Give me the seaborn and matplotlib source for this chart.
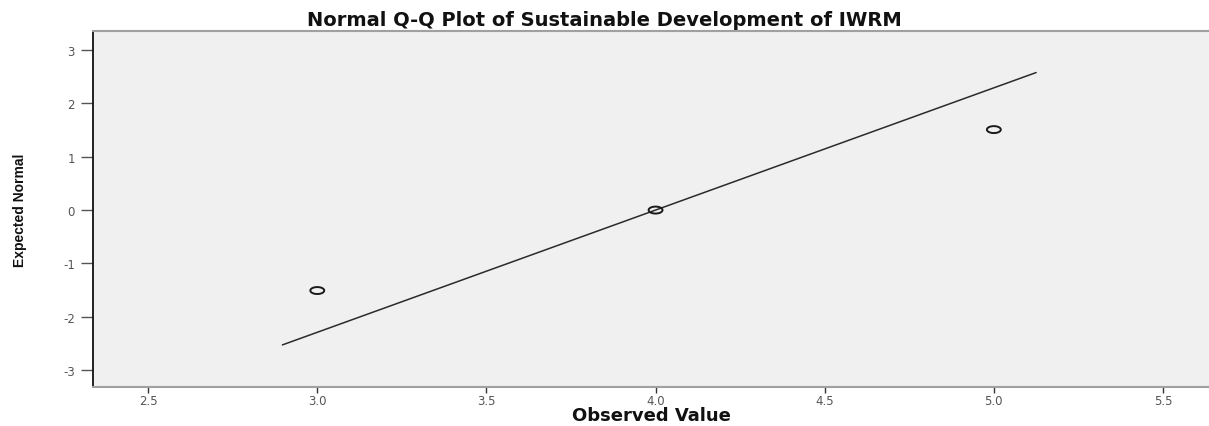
import numpy as np
import pandas as pd
import seaborn as sns
import matplotlib
matplotlib.use("Agg")
import matplotlib.pyplot as plt
from matplotlib.path import Path
from matplotlib.markers import MarkerStyle

# Observed scores and their expected normal quantiles
observed = [3.0, 4.0, 5.0]
expected = [-1.51, 0.0, 1.51]

# Reference line: z = (x - mean) / sd, drawn over this z span
ref_mean = 4.0
ref_sd = 0.436
ref_z = [-2.53, 2.58]

x_ticks = [2.5, 3.0, 3.5, 4.0, 4.5, 5.0, 5.5]
y_ticks = [-3, -2, -1, 0, 1, 2, 3]

sns.set_theme(style="white")
plt.rcParams["font.family"] = ["DejaVu Sans"]

fig = plt.figure(figsize=(12.09, 4.27), dpi=100)
ax = fig.add_axes([93 / 1209, 1 - 388 / 427, 1 - 93 / 1209, (388 - 32) / 427])
ax.set_facecolor("#f0f0f0")

# Reference line
line_df = pd.DataFrame({
    "x": [ref_mean + z * ref_sd for z in ref_z],
    "y": ref_z,
})
sns.lineplot(data=line_df, x="x", y="y", ax=ax, color="#2b2b2b",
             linewidth=1.1, sort=False, zorder=2)

# Flattened open-circle marker
t = np.linspace(0, 2 * np.pi, 60)
ellipse = Path(np.column_stack([np.cos(t), 0.5 * np.sin(t)]), closed=True)
pts = pd.DataFrame({"observed": observed, "expected": expected})
sns.scatterplot(data=pts, x="observed", y="expected", ax=ax,
                marker=MarkerStyle(ellipse), s=100, facecolor="none",
                edgecolor="#1a1a1a", linewidth=1.4, zorder=3)

ax.set_xlim(2.337, 5.636)
ax.set_ylim(-3.32, 3.36)
ax.set_xticks(x_ticks)
ax.set_xticklabels([f"{v:.1f}" for v in x_ticks])
ax.set_yticks(y_ticks)
ax.set_yticklabels([str(v) for v in y_ticks])

ax.tick_params(axis="x", direction="out", length=4, width=1, pad=1,
               labelsize=8.5, labelcolor="#555555", color="#333333", bottom=True)
ax.tick_params(axis="y", direction="out", length=9, width=1, pad=4,
               labelsize=8.5, labelcolor="#555555", color="#555555", left=True)

for side in ["top", "bottom"]:
    ax.spines[side].set_color("#a0a0a0")
    ax.spines[side].set_linewidth(1.5)
ax.spines["left"].set_color("#111111")
ax.spines["left"].set_linewidth(1.3)
ax.spines["right"].set_visible(False)

ax.set_xlabel("")
ax.set_ylabel("")

fig.text(0.5, 1 - 21 / 427, "Normal Q-Q Plot of Sustainable Development of IWRM",
         ha="center", va="center", fontsize=14, fontweight="bold",
         color="#111111")
fig.text(651 / 1209, 1 - 416 / 427, "Observed Value", ha="center", va="center",
         fontsize=13, fontweight="bold", color="#111111")
fig.text(20 / 1209, 1 - 210 / 427, "Expected Normal", ha="center", va="center",
         rotation=90, fontsize=10, fontweight="bold", color="#111111",
         family=["Liberation Sans", "DejaVu Sans"])

fig.savefig("out.png", dpi=100, facecolor="white")
